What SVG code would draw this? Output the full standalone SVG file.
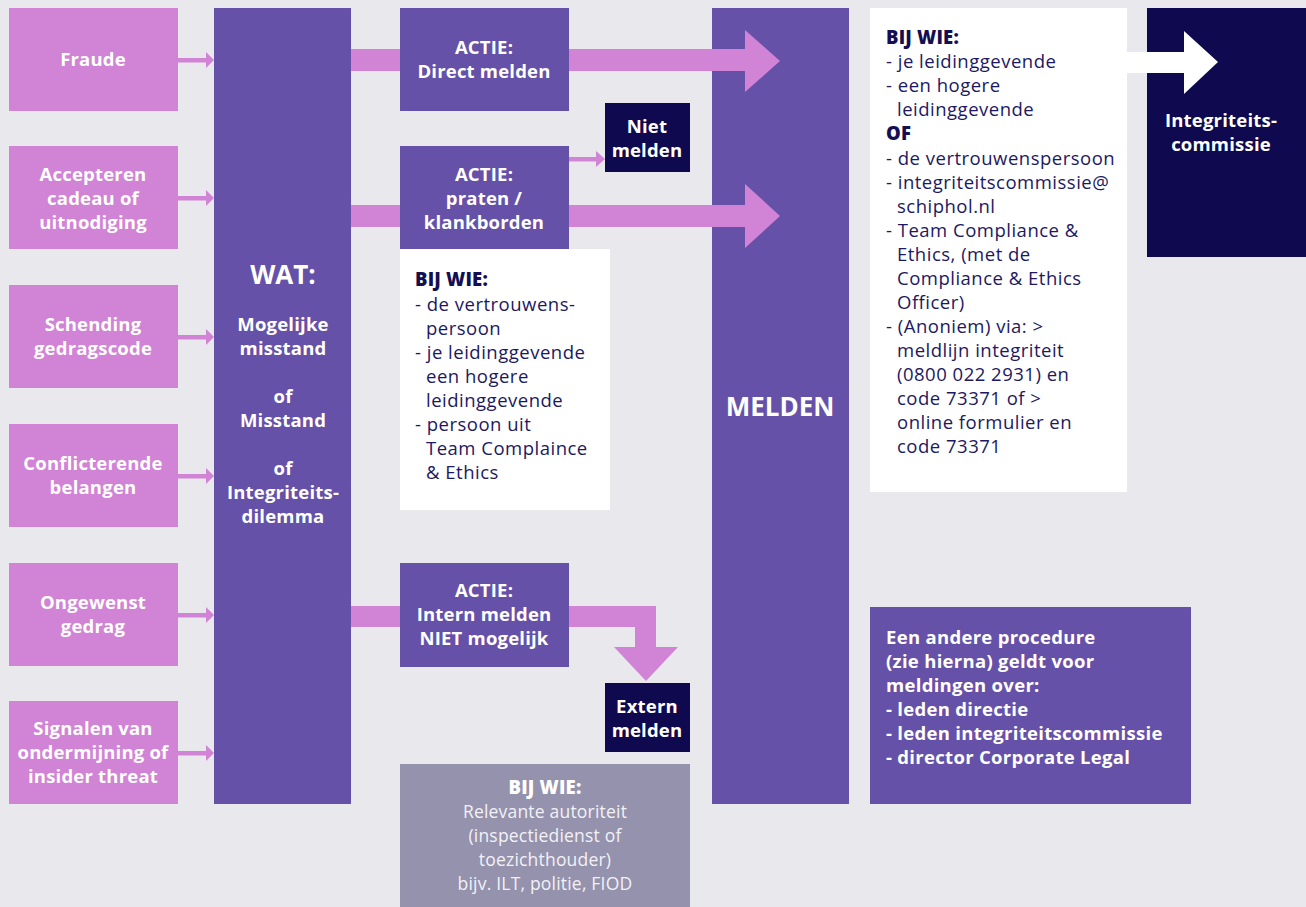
<svg xmlns="http://www.w3.org/2000/svg" width="1306" height="907" viewBox="0 0 1306 907">
<style>
.pink{fill:#d183d5}
.purple{fill:#6651a8}
.navy{fill:#0f0a50}
.white{fill:#ffffff}
.grey{fill:#9592ad}
.arrow{fill:#d183d5}
text{font-family:"Open Sans","Liberation Sans",sans-serif}
.lbl{fill:#ffffff;font-size:18.5px;font-weight:700;text-anchor:middle;letter-spacing:0.2px}
.big{fill:#ffffff;font-size:26px;font-weight:700;text-anchor:middle}
.body{fill:#1c1862;font-size:18.5px;letter-spacing:0.5px}
.hd{fill:#140f52;font-size:18.5px;font-weight:800;letter-spacing:0.2px}
.proc{fill:#ffffff;font-size:18.5px;font-weight:700;letter-spacing:0.3px}
.gtxt{fill:#f2f1f6;font-size:17.5px;text-anchor:middle;letter-spacing:0.2px}
.ghd{fill:#ffffff;font-size:18.5px;font-weight:800;text-anchor:middle;letter-spacing:0.2px}
</style>
<rect x="0" y="0" width="1306" height="907" fill="#e9e8ed"/>

<g id="fraude"><rect class="pink" x="9" y="8" width="169" height="103"/>
  <text class="lbl" x="93" y="66">Fraude</text></g>
<g id="accepteren"><rect class="pink" x="9" y="146" width="169" height="103"/>
  <text class="lbl" x="93" y="181">Accepteren</text><text class="lbl" x="93" y="205">cadeau of</text><text class="lbl" x="93" y="229">uitnodiging</text></g>
<g id="schending"><rect class="pink" x="9" y="285" width="169" height="103"/>
  <text class="lbl" x="93" y="331">Schending</text><text class="lbl" x="93" y="355">gedragscode</text></g>
<g id="conflicterende"><rect class="pink" x="9" y="424" width="169" height="103"/>
  <text class="lbl" x="93" y="470">Conflicterende</text><text class="lbl" x="93" y="494">belangen</text></g>
<g id="ongewenst"><rect class="pink" x="9" y="563" width="169" height="103"/>
  <text class="lbl" x="93" y="609">Ongewenst</text><text class="lbl" x="93" y="633">gedrag</text></g>
<g id="signalen"><rect class="pink" x="9" y="701" width="169" height="103"/>
  <text class="lbl" x="93" y="735">Signalen van</text><text class="lbl" x="93" y="759">ondermijning of</text><text class="lbl" x="93" y="783">insider threat</text></g>

<g id="wat"><rect class="purple" x="214" y="8" width="137" height="796"/>
  <text class="big" x="283" y="284">WAT:</text>
  <text class="lbl" x="283" y="331">Mogelijke</text><text class="lbl" x="283" y="355">misstand</text>
  <text class="lbl" x="283" y="403">of</text><text class="lbl" x="283" y="427">Misstand</text>
  <text class="lbl" x="283" y="475">of</text><text class="lbl" x="283" y="499">Integriteits-</text><text class="lbl" x="283" y="523">dilemma</text></g>

<g id="actie-direct"><rect class="purple" x="400" y="8" width="169" height="103"/>
  <text class="lbl" x="484" y="54">ACTIE:</text><text class="lbl" x="484" y="78">Direct melden</text></g>
<g id="actie-praten"><rect class="purple" x="400" y="146" width="169" height="103"/>
  <text class="lbl" x="484" y="181">ACTIE:</text><text class="lbl" x="484" y="205">praten /</text><text class="lbl" x="484" y="229">klankborden</text></g>
<g id="niet-melden"><rect class="navy" x="605" y="103" width="85" height="69"/>
  <text class="lbl" x="647" y="133">Niet</text><text class="lbl" x="647" y="157">melden</text></g>

<g id="bijwie-praten"><rect class="white" x="400" y="249" width="210" height="261"/>
  <text class="hd" x="415" y="286">BIJ WIE:</text>
  <text class="body" x="415" y="311">- de vertrouwens-</text>
  <text class="body" x="426" y="335">persoon</text>
  <text class="body" x="415" y="359">- je leidinggevende</text>
  <text class="body" x="426" y="383">een hogere</text>
  <text class="body" x="426" y="407">leidinggevende</text>
  <text class="body" x="415" y="431">- persoon uit</text>
  <text class="body" x="426" y="455">Team Complaince</text>
  <text class="body" x="426" y="479">&amp; Ethics</text></g>

<g id="actie-intern"><rect class="purple" x="400" y="563" width="169" height="104"/>
  <text class="lbl" x="484" y="597">ACTIE:</text><text class="lbl" x="484" y="621">Intern melden</text><text class="lbl" x="484" y="645">NIET mogelijk</text></g>
<g id="extern-melden"><rect class="navy" x="605" y="683" width="85" height="69"/>
  <text class="lbl" x="647" y="713">Extern</text><text class="lbl" x="647" y="737">melden</text></g>
<g id="bijwie-extern"><rect class="grey" x="400" y="764" width="290" height="143"/>
  <text class="ghd" x="545" y="794">BIJ WIE:</text>
  <text class="gtxt" x="545" y="818">Relevante autoriteit</text>
  <text class="gtxt" x="545" y="842">(inspectiedienst of</text>
  <text class="gtxt" x="545" y="866">toezichthouder)</text>
  <text class="gtxt" x="545" y="890">bijv. ILT, politie, FIOD</text></g>

<g id="melden"><rect class="purple" x="712" y="8" width="137" height="796"/>
  <text class="big" x="780" y="416">MELDEN</text></g>

<g id="bijwie-melden"><rect class="white" x="870" y="8" width="257" height="484"/>
  <text class="hd" x="886" y="44">BIJ WIE:</text>
  <text class="body" x="886" y="68">- je leidinggevende</text>
  <text class="body" x="886" y="92">- een hogere</text>
  <text class="body" x="897" y="116">leidinggevende</text>
  <text class="hd" x="886" y="140">OF</text>
  <text class="body" x="886" y="165">- de vertrouwenspersoon</text>
  <text class="body" x="886" y="189">- integriteitscommissie@</text>
  <text class="body" x="897" y="213">schiphol.nl</text>
  <text class="body" x="886" y="237">- Team Compliance &amp;</text>
  <text class="body" x="897" y="261">Ethics, (met de</text>
  <text class="body" x="897" y="285">Compliance &amp; Ethics</text>
  <text class="body" x="897" y="309">Officer)</text>
  <text class="body" x="886" y="333">- (Anoniem) via: &gt;</text>
  <text class="body" x="897" y="357">meldlijn integriteit</text>
  <text class="body" x="897" y="381">(0800 022 2931) en</text>
  <text class="body" x="897" y="405">code 73371 of &gt;</text>
  <text class="body" x="897" y="429">online formulier en</text>
  <text class="body" x="897" y="453">code 73371</text></g>

<g id="integriteitscommissie"><rect class="navy" x="1147" y="8" width="159" height="249"/>
  <text class="lbl" x="1221" y="127">Integriteits-</text><text class="lbl" x="1221" y="151">commissie</text></g>

<g id="procedure"><rect class="purple" x="870" y="607" width="321" height="197"/>
  <text class="proc" x="886" y="644">Een andere procedure</text>
  <text class="proc" x="886" y="668">(zie hierna) geldt voor</text>
  <text class="proc" x="886" y="692">meldingen over:</text>
  <text class="proc" x="886" y="716">- leden directie</text>
  <text class="proc" x="886" y="740">- leden integriteitscommissie</text>
  <text class="proc" x="886" y="764">- director Corporate Legal</text></g>

<g id="connectors">
  <g class="arrow">
    <rect x="178" y="58" width="29" height="4.5"/><polygon points="206,52 214,60 206,68"/>
    <rect x="178" y="196" width="29" height="4.5"/><polygon points="206,190 214,198 206,206"/>
    <rect x="178" y="335" width="29" height="4.5"/><polygon points="206,329 214,337 206,345"/>
    <rect x="178" y="474" width="29" height="4.5"/><polygon points="206,468 214,476 206,484"/>
    <rect x="178" y="613" width="29" height="4.5"/><polygon points="206,607 214,615 206,623"/>
    <rect x="178" y="751" width="29" height="4.5"/><polygon points="206,745 214,753 206,761"/>
  </g>
  <rect class="arrow" x="351" y="49" width="49" height="22"/>
  <polygon class="arrow" points="569,49 745,49 745,30 780,61 745,92 745,71 569,71"/>
  <rect class="arrow" x="351" y="205" width="49" height="22"/>
  <polygon class="arrow" points="569,205 745,205 745,184 780,216 745,248 745,227 569,227"/>
  <rect class="arrow" x="569" y="157" width="28" height="4.5"/>
  <polygon class="arrow" points="596,151 605,159 596,167"/>
  <rect class="arrow" x="351" y="606" width="49" height="21"/>
  <polygon class="arrow" points="569,606 656,606 656,647 678,647 646,681 614,647 635,647 635,627 569,627"/>
  <polygon fill="#ffffff" points="1127,52 1184,52 1184,31 1218,62 1184,94 1184,73 1127,73"/>
</g>
</svg>
